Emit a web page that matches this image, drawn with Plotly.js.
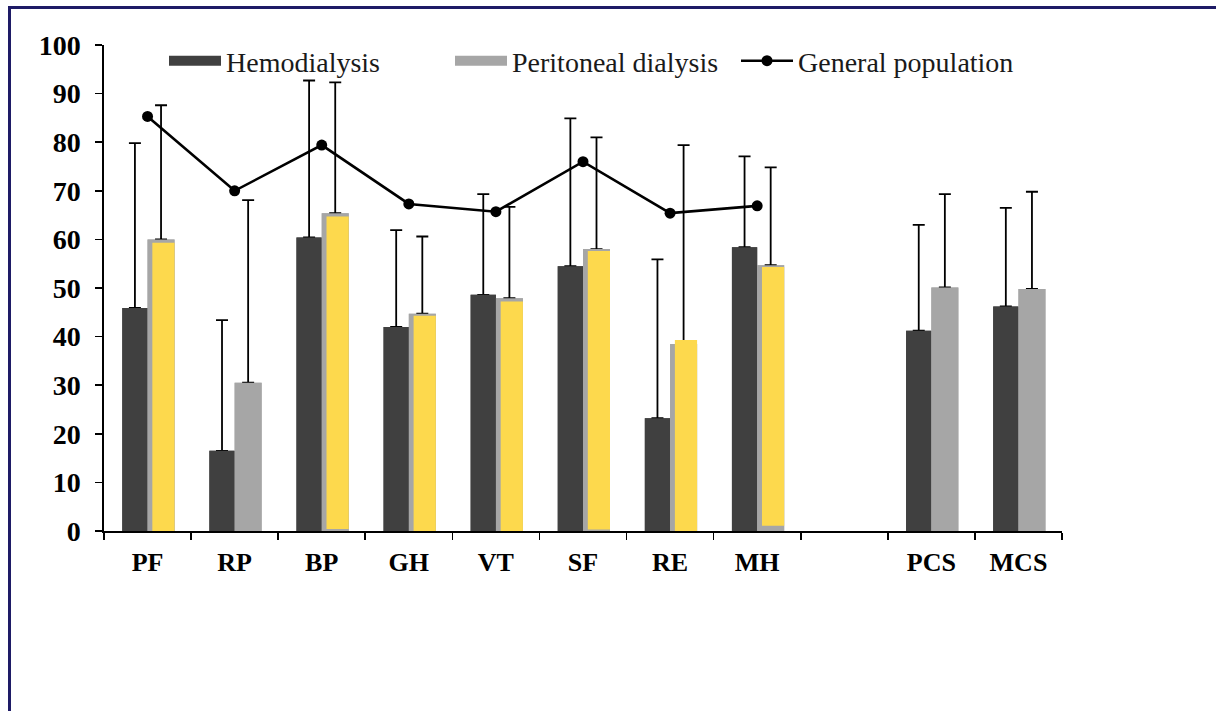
<!DOCTYPE html>
<html>
<head>
<meta charset="utf-8">
<script src="https://cdn.plot.ly/plotly-3.0.1.min.js"></script>
<style>
  html, body { margin: 0; padding: 0; background: #ffffff; }
  #chart { width: 1216px; height: 711px; }
</style>
</head>
<body>
<div id="chart"></div>
<script>
// ---- data ----
const categories = ['PF', 'RP', 'BP', 'GH', 'VT', 'SF', 'RE', 'MH', ' ', 'PCS', 'MCS'];

const hemodialysis      = [45.9, 16.5, 60.4, 42.0, 48.6, 54.5, 23.2, 58.4, null, 41.2, 46.2];
const hemodialysisSD    = [33.9, 26.9, 32.3, 19.9, 20.7, 30.4, 32.7, 18.7, null, 21.8, 20.3];

const peritoneal        = [60.0, 30.5, 65.4, 44.7, 47.9, 58.0, 38.5, 54.7, null, 50.1, 49.8];
const peritonealSD      = [27.6, 37.6, 26.9, 15.9, 18.8, 23.0, 40.9, 20.1, null, 19.2, 20.0];

// yellow highlight overlay drawn over some peritoneal bars (top and bottom values)
const highlightTop      = [59.3, null, 64.7, 44.3, 47.2, 57.6, 39.3, 54.3, null, null, null];
const highlightBase     = [0.0,  null, 0.4,  0.0, -0.3,  0.3,  0.0,  1.1, null, null, null];

const generalPopulation = [85.3, 70.0, 79.4, 67.3, 65.7, 76.0, 65.4, 66.9, null, null, null];

const yTicks = [0, 10, 20, 30, 40, 50, 60, 70, 80, 90, 100];

// ---- derived ----
const zeros = categories.map(() => 0);
const highlightLen = highlightTop.map((t, i) => (t === null ? null : t - highlightBase[i]));

const serif = 'Liberation Serif, Times New Roman, serif';
const DARK = '#404040', LIGHT = '#a6a6a6', YELLOW = '#fdd94d';
const errStyle = { color: '#000000', thickness: 1.8, width: 6 };

const traces = [
  // legend-only swatches (wide rectangles like the reference)
  { type: 'scatter', mode: 'lines', name: 'Hemodialysis', x: [categories[0]], y: [null],
    line: { color: DARK, width: 14 }, hoverinfo: 'skip' },
  { type: 'scatter', mode: 'lines', name: 'Peritoneal dialysis', x: [categories[0]], y: [null],
    line: { color: LIGHT, width: 14 }, hoverinfo: 'skip' },

  // bars with their (upper-only) standard-deviation whiskers
  { type: 'bar', name: 'Hemodialysis', showlegend: false, x: categories, y: hemodialysis,
    offset: -0.29, width: 0.29, marker: { color: DARK },
    error_y: Object.assign({ type: 'data', symmetric: false, array: hemodialysisSD, arrayminus: zeros }, errStyle) },
  { type: 'bar', name: 'Peritoneal dialysis', showlegend: false, x: categories, y: peritoneal,
    offset: 0.0, width: 0.31, marker: { color: LIGHT },
    error_y: Object.assign({ type: 'data', symmetric: false, array: peritonealSD, arrayminus: zeros }, errStyle) },

  // same bars again on top, so the whisker starts cleanly at the bar top
  { type: 'bar', name: 'Hemodialysis', showlegend: false, x: categories, y: hemodialysis,
    offset: -0.29, width: 0.29, marker: { color: DARK }, hoverinfo: 'skip' },
  { type: 'bar', name: 'Peritoneal dialysis', showlegend: false, x: categories, y: peritoneal,
    offset: 0.0, width: 0.31, marker: { color: LIGHT }, hoverinfo: 'skip' },

  // yellow highlight overlay
  { type: 'bar', name: 'highlight', showlegend: false, x: categories, y: highlightLen,
    base: highlightBase, offset: 0.055, width: 0.255,
    marker: { color: YELLOW }, hoverinfo: 'skip' },

  { type: 'scatter', mode: 'lines+markers', name: 'General population',
    x: categories, y: generalPopulation,
    line: { color: '#000000', width: 2.6 },
    marker: { color: '#000000', size: 11 } }
];

// frame lines (paper coordinates relative to plot area 104..1062 x 45..531)
const px = p => (p - 104) / 958;
const py = p => (531 - p) / 486;

const layout = {
  width: 1216, height: 711,
  margin: { l: 104, r: 154, t: 45, b: 180 },
  paper_bgcolor: '#ffffff', plot_bgcolor: '#ffffff',
  barmode: 'overlay',
  showlegend: true,
  legend: {
    orientation: 'h', x: px(164), xanchor: 'left', y: py(61), yanchor: 'middle',
    font: { family: serif, size: 28, color: '#1a1a1a' },
    bgcolor: 'rgba(0,0,0,0)', itemwidth: 52,
    entrywidthmode: 'pixels', entrywidth: 219
  },
  font: { family: serif, color: '#000000' },
  xaxis: {
    type: 'category', range: [-0.5, 10.5],
    showline: true, linecolor: '#000000', linewidth: 1.6,
    ticks: 'outside', tickson: 'boundaries', ticklen: 7, tickwidth: 1.6, tickcolor: '#000000',
    tickfont: { family: serif, size: 26, color: '#000000', weight: 'bold' },
    ticklabelstandoff: 7,
    showgrid: false, zeroline: false, fixedrange: true
  },
  yaxis: {
    range: [0, 100], tickvals: yTicks,
    showline: true, linecolor: '#000000', linewidth: 1.6,
    ticks: 'outside', ticklen: 7, tickwidth: 1.6, tickcolor: '#000000',
    tickfont: { family: serif, size: 28, color: '#000000', weight: 'bold' },
    ticklabelstandoff: 9,
    showgrid: false, zeroline: false, fixedrange: true
  },
  shapes: [
    { type: 'line', xref: 'paper', yref: 'paper', x0: px(8), x1: px(1216), y0: py(7.5), y1: py(7.5),
      line: { color: '#1e1b66', width: 3 } },
    { type: 'line', xref: 'paper', yref: 'paper', x0: px(9.5), x1: px(9.5), y0: py(6), y1: py(711),
      line: { color: '#1e1b66', width: 3 } }
  ]
};

Plotly.newPlot('chart', traces, layout, { displayModeBar: false, staticPlot: true });
</script>
</body>
</html>
